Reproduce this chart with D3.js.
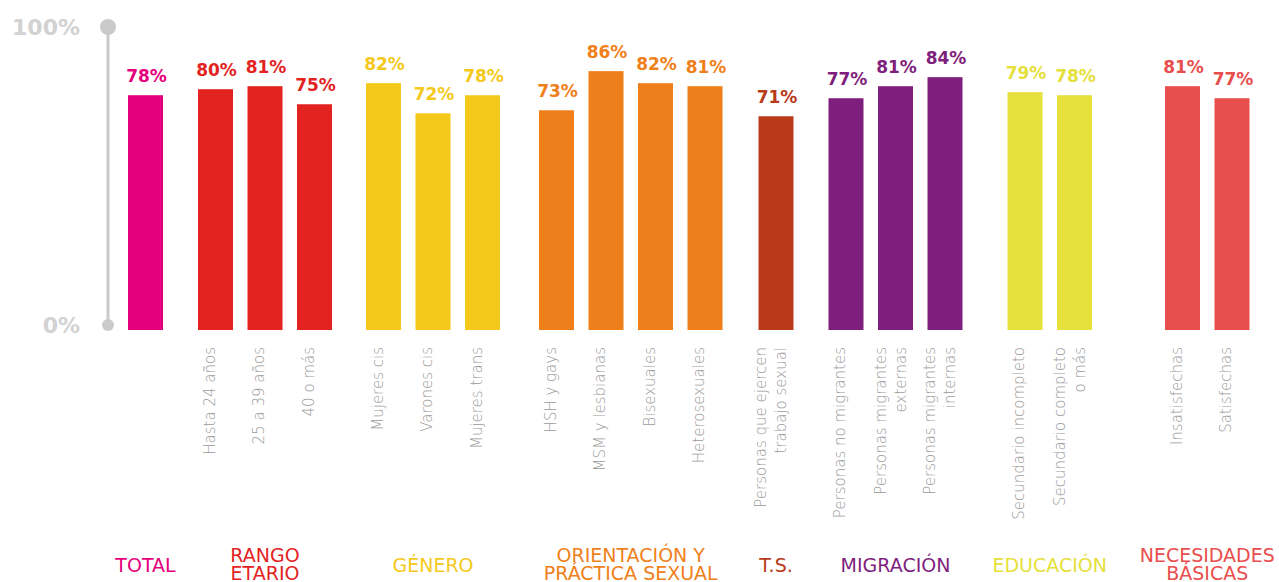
<!DOCTYPE html>
<html>
<head>
<meta charset="utf-8">
<script src="https://cdn.jsdelivr.net/npm/d3@7"></script>
<style>
  html, body { margin: 0; padding: 0; background: #fff; }
  svg { display: block; font-family: "DejaVu Sans", sans-serif; }
</style>
</head>
<body>
<div id="chart"></div>
<script>
// data
var categories = [
    [],
    ["Hasta 24 años"], ["25 a 39 años"], ["40 o más"],
    ["Mujeres cis"], ["Varones cis"], ["Mujeres trans"],
    ["HSH y gays"], ["MSM y lesbianas"], ["Bisexuales"], ["Heterosexuales"],
    ["Personas que ejercen", "trabajo sexual"],
    ["Personas no migrantes"], ["Personas migrantes", "externas"], ["Personas migrantes", "internas"],
    ["Secundario incompleto"], ["Secundario completo", "o más"],
    ["Insatisfechas"], ["Satisfechas"]
];
var values = [78, 80, 81, 75, 82, 72, 78, 73, 86, 82, 81, 71, 77, 81, 84, 79, 78, 81, 77];
var groupOf = [0, 1, 1, 1, 2, 2, 2, 3, 3, 3, 3, 4, 5, 5, 5, 6, 6, 7, 7];
var groupNames = [
    ["TOTAL"], ["RANGO", "ETARIO"], ["GÉNERO"], ["ORIENTACIÓN Y", "PRÁCTICA SEXUAL"],
    ["T.S."], ["MIGRACIÓN"], ["EDUCACIÓN"], ["NECESIDADES", "BÁSICAS"]
];
var groupColors = ["#e4007c", "#e3231f", "#f4c91c", "#ef7f1a", "#b93a19", "#7f1f7d", "#e5e03b", "#e84e4d"];
var yTicks = [0, 100];

var width = 1279;
var height = 582;
var barWidth = 35;
var step = 49.5;
// extra space (px) opening each group
var groupGap = [0, 20.5, 19.5, 24.5, 21.5, 20.5, 30.5, 58.5];

var svg = d3.select("#chart")
    .append("svg")
    .attr("width", width)
    .attr("height", height);

// slot position of each bar, counting group gaps in units of one step
var slots = [];
var acc = 0;
categories.forEach((c, i) => {
    if (i > 0 && groupOf[i] != groupOf[i - 1]) acc += groupGap[groupOf[i]] / step;
    slots.push(i + acc);
});

var x = d3.scaleLinear()
    .domain([0, 1])
    .range([145.5, 145.5 + step]);
var y = d3.scaleLinear()
    .domain([0, 100])
    .range([330, 29]);

// axis: grey stick with round ends
var axisX = 108;
var axis = svg.append("g").attr("class", "axis");
axis.append("line")
    .attr("x1", axisX).attr("x2", axisX)
    .attr("y1", y(100) - 2).attr("y2", y(0) - 5)
    .attr("stroke", "#cacaca")
    .attr("stroke-width", 3);
axis.selectAll("circle")
    .data(yTicks)
    .enter().append("circle")
    .attr("cx", axisX)
    .attr("cy", d => d == 0 ? y(d) - 5 : y(d) - 2)
    .attr("r", d => d == 0 ? 6 : 8)
    .attr("fill", "#cacaca");
axis.selectAll("text")
    .data(yTicks)
    .enter().append("text")
    .attr("x", 80)
    .attr("y", d => (d == 0 ? y(d) - 5 : y(d) - 2) + 8)
    .attr("text-anchor", "end")
    .attr("font-size", 22)
    .attr("font-weight", "bold")
    .attr("fill", "#d2d2d2")
    .text(d => d + "%");

// bars
var bars = svg.append("g").attr("class", "bars");
bars.selectAll("rect")
    .data(values)
    .enter().append("rect")
    .attr("x", (d, i) => x(slots[i]) - barWidth / 2)
    .attr("y", d => y(d))
    .attr("width", barWidth)
    .attr("height", d => y(0) - y(d))
    .attr("fill", (d, i) => groupColors[groupOf[i]]);

// value labels
svg.append("g").attr("class", "values")
    .selectAll("text")
    .data(values)
    .enter().append("text")
    .attr("x", (d, i) => x(slots[i]) + 1)
    .attr("y", d => y(d) - 13)
    .attr("text-anchor", "middle")
    .attr("font-size", 17)
    .attr("font-weight", "bold")
    .attr("fill", (d, i) => groupColors[groupOf[i]])
    .text(d => d + "%");

// rotated category labels (the total bar has none)
var catLabels = svg.append("g").attr("class", "categories")
    .selectAll("text")
    .data(categories)
    .enter().append("text")
    .attr("transform", (d, i) => `translate(${x(slots[i])},347) rotate(-90)`)
    .attr("text-anchor", "end")
    .attr("font-size", 15)
    .attr("font-weight", 300)
    .attr("fill", "#9a9a9a");
catLabels.selectAll("tspan")
    .data(d => d.map((t, k) => ({ text: t, k: k, n: d.length })))
    .enter().append("tspan")
    .attr("x", 0)
    .attr("y", d => d.n == 1 ? -1 : (d.k == 0 ? -10 : 10))
    .text(d => d.text);

// group titles
var groupCenters = groupNames.map((g, gi) => {
    var idx = d3.range(categories.length).filter(i => groupOf[i] == gi);
    return (x(slots[idx[0]]) + x(slots[idx[idx.length - 1]])) / 2;
});
var titles = svg.append("g").attr("class", "groups")
    .selectAll("text")
    .data(groupNames)
    .enter().append("text")
    .attr("text-anchor", "middle")
    .attr("font-size", 19)
    .attr("fill", (d, i) => groupColors[i]);
titles.selectAll("tspan")
    .data((d, i) => d.map((t, k) => ({ text: t, k: k, n: d.length, cx: groupCenters[i] })))
    .enter().append("tspan")
    .attr("x", d => d.cx)
    .attr("y", d => d.n == 1 ? 572 : 562 + d.k * 18)
    .text(d => d.text);
</script>
</body>
</html>
